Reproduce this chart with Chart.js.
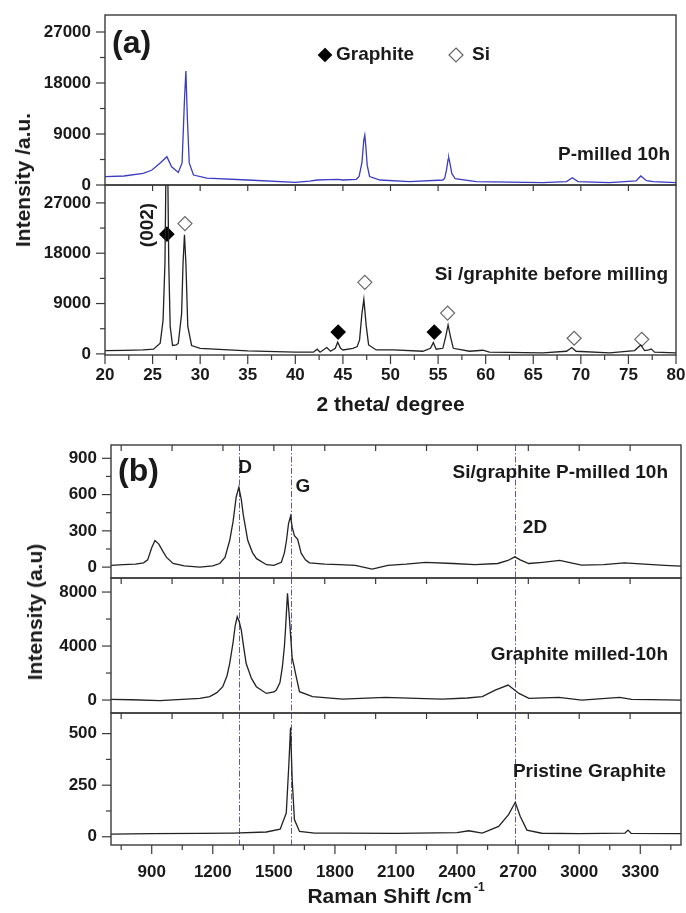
<!DOCTYPE html>
<html>
<head>
<meta charset="utf-8">
<script src="https://cdn.jsdelivr.net/npm/chart.js@4.4.0/dist/chart.umd.min.js"></script>
<style>
  body { margin: 0; background: #fff; width: 686px; height: 913px; position: relative; overflow: hidden; font-family: "Liberation Sans", Arial, sans-serif; }
  canvas { position: absolute; left: 0; }
  .ytitle { position: absolute; font-weight: bold; font-size: 21px; color: #1a1a1a; white-space: nowrap;
            transform: translate(-50%, -50%) rotate(-90deg); }
</style>
</head>
<body>
<canvas id="xrdTop" width="686" height="190" style="top:5px"></canvas>
<canvas id="xrdBottom" width="686" height="243" style="top:175px"></canvas>
<canvas id="ramanTop" width="686" height="153" style="top:435px"></canvas>
<canvas id="ramanMid" width="686" height="155" style="top:568px"></canvas>
<canvas id="ramanBot" width="686" height="210" style="top:703px"></canvas>
<div class="ytitle" style="left:23px; top:180px">Intensity /a.u.</div>
<div class="ytitle" style="left:35px; top:612px">Intensity (a.u)</div>

<script>
// ---------- panel (a): XRD ----------
var milledX = [20, 22, 24, 24.9, 25.8, 26.5, 27.0, 27.7, 28.1, 28.35, 28.5, 28.65, 28.85, 29.3, 30.7, 35, 40, 41.5, 42.3, 43.5, 44.5, 45,
    46.4, 46.7, 47.0, 47.2, 47.3, 47.4, 47.55, 47.8, 48.9, 52, 55.5, 55.7, 55.9, 56.05, 56.12, 56.25, 56.45, 56.8, 59, 66,
    68.5, 69.1, 69.7, 73, 75.8, 76.3, 76.9, 77.6, 80];
var milledY = [1470, 1590, 2060, 2600, 3900, 5000, 3200, 2200, 3900, 15000, 20100, 12000, 3900, 1760, 1200, 880, 470, 700, 880, 950, 1000, 880,
    1000, 1500, 4000, 8000, 8800, 7000, 3500, 1500, 880, 590, 880, 1200, 2800, 4500, 4820, 3800, 2000, 1100, 590, 410,
    590, 1290, 590, 410, 710, 1590, 760, 590, 410];

var rawX = [20, 22, 24, 25.1, 25.8, 26.1, 26.3, 26.45, 26.55, 26.7, 26.85, 27.1, 27.5, 27.7, 28.05, 28.2, 28.35, 28.5, 28.7, 29.1, 30, 35, 40,
    41.9, 42.3, 42.6, 43.3, 43.7, 44.2, 44.45, 44.75, 45, 46.05, 46.5, 46.75, 47.0, 47.2, 47.45, 47.7, 48.5, 50.3, 53.4,
    54.2, 54.5, 54.8, 55.5, 55.8, 56.05, 56.3, 56.6, 58.3, 59.7, 60.4, 66, 68.5, 69.05, 69.5, 73, 75.65, 76.3, 76.7,
    77.15, 77.4, 77.75, 80];
var rawY = [600, 620, 700, 830, 1900, 6000, 16200, 40000, 40000, 16200, 4900, 1500, 1600, 1900, 7200, 16200, 21300, 16200, 4900, 1500, 1000, 530, 300,
    300, 830, 300, 1130, 470, 1000, 2080, 1000, 700, 1000, 1300, 2500, 7250, 9750, 5000, 1600, 700, 700, 470,
    1000, 2020, 830, 1000, 3090, 5170, 3090, 1000, 470, 650, 300, 180, 470, 1130, 470, 180, 600, 1600, 600,
    700, 890, 300, 180];

var graphiteMarkX = [26.5, 44.5, 54.6];
var graphiteMarkY = [21400, 3900, 3900];
var siMarkX = [28.4, 47.3, 56.0, 69.3, 76.4];
var siMarkY = [23300, 12800, 7300, 2800, 2600];

var xrdTicks = [20, 25, 30, 35, 40, 45, 50, 55, 60, 65, 70, 75, 80];
var xrdMinor = [22.5, 27.5, 32.5, 37.5, 42.5, 47.5, 52.5, 57.5, 62.5, 67.5, 72.5, 77.5];
var xrdEdge = [25, 30, 35, 40, 45, 50, 55, 60, 65, 70, 75];
var xrdYTicks = [0, 9000, 18000, 27000];
var xrdYMinor = [4500, 13500, 22500];

// ---------- panel (b): Raman ----------
var siMilledX = [700, 760, 820, 860, 880, 900, 916, 935, 955, 973, 1005, 1060, 1136, 1200, 1234, 1260, 1283, 1300, 1315, 1328, 1340,
    1350, 1372, 1395, 1415, 1464, 1500, 1537, 1552, 1562, 1572, 1582, 1590, 1601, 1617, 1634, 1655, 1675, 1750, 1822, 1900,
    1983, 2060, 2150, 2245, 2380, 2488, 2600, 2650, 2684, 2710, 2752, 2820, 2904, 2960, 3012, 3120, 3222, 3320, 3420, 3500];
var siMilledY = [15, 20, 25, 35, 60, 160, 220, 190, 130, 80, 30, 10, 0, 10, 30, 80, 220, 380, 580, 660, 560,
    430, 220, 120, 70, 20, 15, 40, 120, 220, 360, 420, 330, 260, 230, 115, 60, 35, 25, 20, 15,
    -16, 15, 25, 40, 30, 20, 30, 55, 85, 60, 30, 40, 55, 35, 16, 20, 35, 25, 15, 8];

var grMilledX = [700, 800, 940, 1050, 1136, 1185, 1220, 1249, 1270, 1283, 1300, 1310, 1320, 1330, 1340, 1352, 1364, 1390, 1414, 1463,
    1500, 1512, 1530, 1542, 1552, 1557, 1567, 1577, 1590, 1598, 1606, 1626, 1690, 1837, 2049, 2200, 2328, 2450, 2524, 2587,
    2651, 2704, 2753, 2900, 3013, 3199, 3257, 3350, 3500];
var grMilledY = [50, 20, -40, 50, 130, 250, 550, 990, 1800, 2700, 4300, 5500, 6170, 5800, 5180, 3900, 2700, 1600, 990, 490,
    600, 740, 1300, 2470, 4000, 5180, 7900, 5920, 3100, 2600, 2000, 620, 250, 75, 200, 120, 75, 150, 250, 740,
    1110, 490, 120, 200, 0, 200, 50, 30, 0];

var pristineX = [700, 900, 1136, 1300, 1463, 1531, 1561, 1574, 1582, 1590, 1601, 1626, 1700, 1837, 2100, 2400, 2457, 2524, 2604,
    2653, 2686, 2710, 2743, 2816, 3000, 3225, 3240, 3255, 3500];
var pristineY = [13, 15, 16, 18, 23, 37, 115, 358, 530, 277, 83, 26, 18, 18, 16, 20, 29, 18, 50,
    107, 167, 99, 32, 17, 15, 18, 32, 16, 15];

var ramanLines = [1330, 1585, 2685];
var ramanTicks = [900, 1200, 1500, 1800, 2100, 2400, 2700, 3000, 3300];
var ramanMinor = [750, 1050, 1350, 1650, 1950, 2250, 2550, 2850, 3150, 3450];
var ramanEdge = [750, 1000, 1250, 1500, 1750, 2000, 2250, 2500, 2750, 3000, 3250];
var topYTicks = [0, 300, 600, 900];
var topYMinor = [150, 450, 750];
var midYTicks = [0, 4000, 8000];
var midYMinor = [2000, 6000];
var botYTicks = [0, 250, 500];
var botYMinor = [125, 375];

var FONT = '"Liberation Sans", Arial, sans-serif';
var INK = '#1a1a1a';

function pts(xs, ys) {
    return xs.map(function (x, i) { return { x: x, y: ys[i] }; });
}

function curve(xs, ys, color) {
    return { data: pts(xs, ys), borderColor: color, borderWidth: 1.3, pointRadius: 0, tension: 0, fill: false };
}

function markers(xs, ys, filled) {
    return {
        data: pts(xs, ys), showLine: false, pointStyle: 'rectRot', pointRadius: 7,
        pointBackgroundColor: filled ? '#000' : '#fff',
        pointBorderColor: filled ? '#000' : '#666', pointBorderWidth: 1.2
    };
}

function diamond(ctx, cx, cy, r, filled) {
    ctx.beginPath();
    ctx.moveTo(cx, cy - r); ctx.lineTo(cx + r, cy); ctx.lineTo(cx, cy + r); ctx.lineTo(cx - r, cy);
    ctx.closePath();
    ctx.fillStyle = filled ? '#000' : '#fff';
    ctx.fill();
    ctx.strokeStyle = filled ? '#000' : '#666';
    ctx.lineWidth = 1.2;
    ctx.stroke();
}

// frame, tick marks, dash-dot guides and in-plot labels
var decor = {
    id: 'decor',
    beforeDatasetsDraw: function (chart, args, o) {
        var ctx = chart.ctx, a = chart.chartArea, x = chart.scales.x;
        if (!o.vlines) return;
        ctx.save();
        ctx.strokeStyle = '#5c5c9c';
        ctx.lineWidth = 1;
        ctx.setLineDash([6, 2, 1.5, 2]);
        o.vlines.forEach(function (v) {
            var p = Math.round(x.getPixelForValue(v)) + 0.5;
            ctx.beginPath(); ctx.moveTo(p, a.top); ctx.lineTo(p, a.bottom); ctx.stroke();
        });
        ctx.restore();
    },
    afterDatasetsDraw: function (chart, args, o) {
        var ctx = chart.ctx, a = chart.chartArea, x = chart.scales.x, y = chart.scales.y;
        ctx.save();
        ctx.strokeStyle = '#3a3a3a';
        ctx.lineWidth = 1.4;
        ctx.strokeRect(a.left, a.top, a.right - a.left, a.bottom - a.top);

        function tick(x1, y1, x2, y2) { ctx.beginPath(); ctx.moveTo(x1, y1); ctx.lineTo(x2, y2); ctx.stroke(); }
        ctx.lineWidth = 1.2;
        (o.yMajor || []).forEach(function (v) { var p = y.getPixelForValue(v); tick(a.left - 9, p, a.left, p); });
        (o.yMinor || []).forEach(function (v) { var p = y.getPixelForValue(v); tick(a.left - 5, p, a.left, p); });
        (o.topTicks || []).forEach(function (v) { var p = x.getPixelForValue(v); tick(p, a.top, p, a.top + 6); });
        (o.xMajor || []).forEach(function (v) { var p = x.getPixelForValue(v); tick(p, a.bottom, p, a.bottom + 9); });
        (o.xMinor || []).forEach(function (v) { var p = x.getPixelForValue(v); tick(p, a.bottom, p, a.bottom + 5); });

        (o.texts || []).forEach(function (t) {
            ctx.save();
            ctx.font = 'bold ' + t.size + 'px ' + FONT;
            ctx.fillStyle = INK;
            ctx.textBaseline = 'middle';
            ctx.textAlign = t.align || 'left';
            var px = (t.right ? a.right : a.left) + t.dx;
            var py = (t.below ? a.bottom : a.top) + t.dy;
            ctx.translate(px, py);
            if (t.rotate) ctx.rotate(t.rotate);
            if (t.sup) {
                var w = ctx.measureText(t.text).width;
                ctx.font = 'bold 12px ' + FONT;
                var ws = ctx.measureText(t.sup).width;
                var start = -(w + ws + 2) / 2;
                ctx.textAlign = 'left';
                ctx.fillText(t.sup, start + w + 2, -9);
                ctx.font = 'bold ' + t.size + 'px ' + FONT;
                ctx.fillText(t.text, start, 0);
            } else {
                ctx.fillText(t.text, 0, 0);
            }
            ctx.restore();
        });

        if (o.legend) {
            var g = o.legend;
            diamond(ctx, a.left + g.dx, a.top + g.dy, 6.5, true);
            diamond(ctx, a.left + g.dx2, a.top + g.dy, 7, false);
            ctx.font = 'bold 19px ' + FONT;
            ctx.fillStyle = INK;
            ctx.textBaseline = 'middle';
            ctx.fillText('Graphite', a.left + g.dx + 11, a.top + g.dy);
            ctx.fillText('Si', a.left + g.dx2 + 16, a.top + g.dy);
        }
        ctx.restore();
    }
};

function makeChart(id, cfg) {
    var tickFont = { family: FONT, size: 17, weight: 'bold' };
    return new Chart(document.getElementById(id), {
        type: 'line',
        data: { datasets: cfg.datasets },
        plugins: [decor],
        options: {
            responsive: false,
            animation: false,
            events: [],
            layout: { padding: { top: 10, right: cfg.right, bottom: cfg.xLabels ? 0 : 10, left: 0 } },
            plugins: { legend: { display: false }, tooltip: { enabled: false }, decor: cfg.decor },
            scales: {
                x: {
                    type: 'linear', min: cfg.xMin, max: cfg.xMax,
                    display: !!cfg.xLabels,
                    grid: { display: false, drawTicks: false },
                    border: { display: false },
                    afterBuildTicks: function (s) {
                        s.ticks = (cfg.xLabels || []).map(function (v) { return { value: v }; });
                    },
                    afterFit: function (s) {
                        s.height = cfg.xHeight || 0;
                        s.paddingLeft = 0; s.paddingRight = 0;
                    },
                    ticks: {
                        autoSkip: false, maxRotation: 0, padding: cfg.xPad || 0, color: INK, font: tickFont,
                        callback: function (v) { return String(v); }
                    },
                    title: cfg.xTitle
                        ? { display: true, text: cfg.xTitle, padding: 0, color: INK, font: { family: FONT, size: 21, weight: 'bold' } }
                        : { display: false }
                },
                y: {
                    min: cfg.yMin, max: cfg.yMax,
                    grid: { display: false, drawTicks: false },
                    border: { display: false },
                    afterBuildTicks: function (s) {
                        s.ticks = cfg.yTicks.map(function (v) { return { value: v }; });
                    },
                    afterFit: function (s) {
                        s.width = cfg.left;
                        s.paddingTop = 0; s.paddingBottom = 0;
                    },
                    ticks: { padding: 14, color: INK, font: tickFont, callback: function (v) { return String(v); } }
                }
            }
        }
    });
}

// (a) top: P-milled 10h
makeChart('xrdTop', {
    datasets: [curve(milledX, milledY, '#3c3cc0')],
    xMin: 20, xMax: 80, yMin: 0, yMax: 30000, yTicks: xrdYTicks, left: 105, right: 10,
    decor: {
        yMajor: xrdYTicks, yMinor: xrdYMinor,
        legend: { dx: 220, dx2: 351, dy: 40 },
        texts: [
            { text: '(a)', size: 32, dx: 7, dy: 29 },
            { text: 'P-milled 10h', size: 19, align: 'right', right: true, dx: -6, dy: 140 }
        ]
    }
});

// (a) bottom: Si/graphite before milling
makeChart('xrdBottom', {
    datasets: [curve(rawX, rawY, '#222'), markers(graphiteMarkX, graphiteMarkY, true), markers(siMarkX, siMarkY, false)],
    xMin: 20, xMax: 80, yMin: -200, yMax: 30200, yTicks: xrdYTicks, left: 105, right: 10,
    xLabels: xrdTicks, xHeight: 63, xPad: 10, xTitle: '2 theta/ degree',
    decor: {
        yMajor: xrdYTicks, yMinor: xrdYMinor, topTicks: xrdEdge, xMajor: xrdTicks, xMinor: xrdMinor,
        texts: [
            { text: '(002)', size: 19, align: 'center', dx: 43, dy: 40, rotate: -Math.PI / 2 },
            { text: 'Si /graphite before milling', size: 19, align: 'right', right: true, dx: -8, dy: 90 }
        ]
    }
});

// (b) top: Si/graphite P-milled 10h
makeChart('ramanTop', {
    datasets: [curve(siMilledX, siMilledY, '#222')],
    xMin: 700, xMax: 3500, yMin: -90, yMax: 1010, yTicks: topYTicks, left: 111, right: 5,
    decor: {
        vlines: ramanLines, yMajor: topYTicks, yMinor: topYMinor, topTicks: ramanEdge,
        texts: [
            { text: '(b)', size: 32, dx: 7, dy: 27 },
            { text: 'D', size: 19, align: 'center', dx: 134, dy: 23 },
            { text: 'G', size: 19, align: 'center', dx: 192, dy: 42 },
            { text: 'Si/graphite P-milled 10h', size: 19, align: 'right', right: true, dx: -13, dy: 28 },
            { text: '2D', size: 19, align: 'center', dx: 424, dy: 83 }
        ]
    }
});

// (b) middle: Graphite milled-10h
makeChart('ramanMid', {
    datasets: [curve(grMilledX, grMilledY, '#222')],
    xMin: 700, xMax: 3500, yMin: -960, yMax: 9040, yTicks: midYTicks, left: 111, right: 5,
    decor: {
        vlines: ramanLines, yMajor: midYTicks, yMinor: midYMinor, topTicks: ramanEdge,
        texts: [{ text: 'Graphite milled-10h', size: 19, align: 'right', right: true, dx: -13, dy: 77 }]
    }
});

// (b) bottom: Pristine Graphite
makeChart('ramanBot', {
    datasets: [curve(pristineX, pristineY, '#222')],
    xMin: 700, xMax: 3500, yMin: -40, yMax: 600, yTicks: botYTicks, left: 111, right: 5,
    xLabels: ramanTicks, xHeight: 68, xPad: 17,
    decor: {
        vlines: ramanLines, yMajor: botYTicks, yMinor: botYMinor, topTicks: ramanEdge,
        xMajor: ramanTicks, xMinor: ramanMinor,
        texts: [
            { text: 'Pristine Graphite', size: 19, align: 'right', right: true, dx: -15, dy: 59 },
            { text: 'Raman Shift /cm', sup: '-1', size: 21, align: 'left', dx: 285, dy: 52, below: true }
        ]
    }
});
</script>
</body>
</html>
